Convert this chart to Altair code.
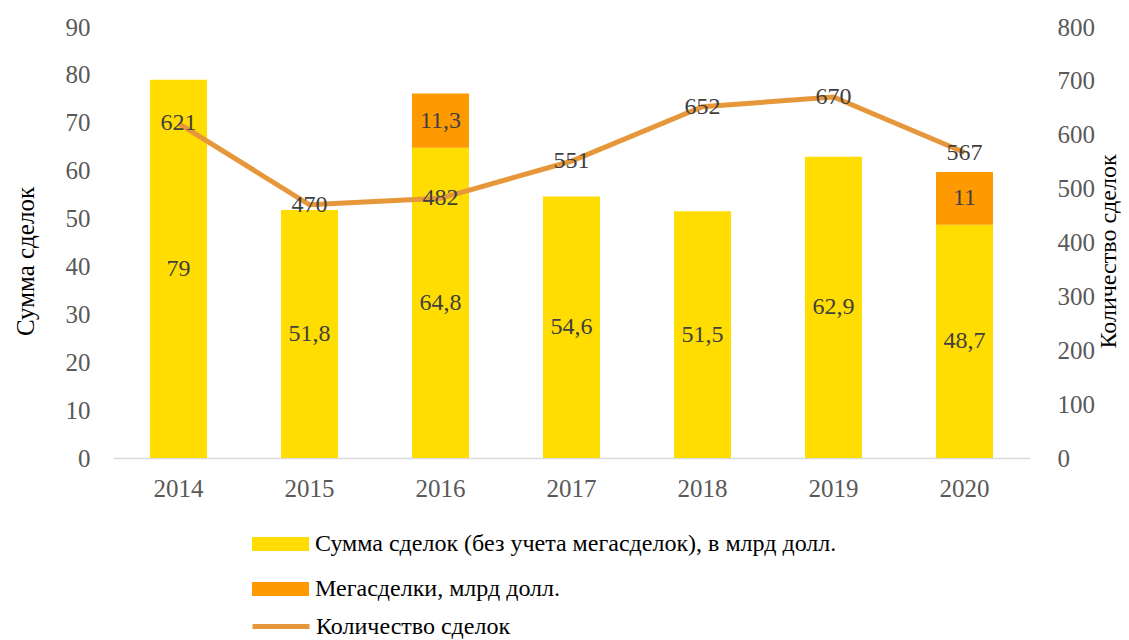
import altair as alt
import pandas as pd

years = ["2014", "2015", "2016", "2017", "2018", "2019", "2020"]
base_sum = [79, 51.8, 64.8, 54.6, 51.5, 62.9, 48.7]
mega_sum = [0, 0, 11.3, 0, 0, 0, 11]
deal_count = [621, 470, 482, 551, 652, 670, 567]

S_BASE = "Сумма сделок (без учета мегасделок), в млрд долл."
S_MEGA = "Мегасделки, млрд долл."
S_COUNT = "Количество сделок"

FONT = "Liberation Serif"
YELLOW = "#FFDD00"
ORANGE = "#FF9900"
LINE = "#E6973A"


def fmt(v):
    s = ("%g" % v)
    return s.replace(".", ",")


rows = []
for i, y in enumerate(years):
    rows.append({"year": y, "series": S_BASE, "value": base_sum[i], "ord": 0,
                 "mid": base_sum[i] / 2, "label": fmt(base_sum[i])})
    if mega_sum[i] > 0:
        rows.append({"year": y, "series": S_MEGA, "value": mega_sum[i], "ord": 1,
                     "mid": base_sum[i] + mega_sum[i] / 2, "label": fmt(mega_sum[i])})
bars_df = pd.DataFrame(rows)

line_df = pd.DataFrame({"year": years, "count": deal_count, "name": S_COUNT,
                        "label": [str(c) for c in deal_count]})

x_enc = alt.X("year:N", sort=years, title=None,
              axis=alt.Axis(labelAngle=0, labelFont=FONT, labelFontSize=25,
                            labelColor="#595959", labelPadding=18, ticks=False,
                            domainColor="#D9D9D9", domainWidth=1.3, grid=False))

left_axis = alt.Axis(values=list(range(0, 91, 10)), title="Сумма сделок",
                     labelFont=FONT, labelFontSize=25, labelColor="#595959",
                     labelPadding=23, ticks=False, domain=False, grid=False,
                     titleFont=FONT, titleFontSize=25, titleFontWeight="normal",
                     titleColor="#000000", titleAngle=270, titleX=-88, titleY=234,
                     titleAlign="center", titleBaseline="middle")

right_axis = alt.Axis(orient="right", values=list(range(0, 801, 100)),
                      title=S_COUNT, labelFont=FONT, labelFontSize=25,
                      labelColor="#595959", labelPadding=27, ticks=False,
                      domain=False, grid=False, titleFont=FONT, titleFontSize=24,
                      titleFontWeight="normal", titleColor="#000000",
                      titleAngle=270, titleX=78, titleY=224,
                      titleAlign="center", titleBaseline="middle")

bars = alt.Chart(bars_df).mark_bar(size=57).encode(
    x=x_enc,
    y=alt.Y("value:Q", stack="zero", scale=alt.Scale(domain=[0, 90]), axis=left_axis),
    fill=alt.Fill("series:N",
                  scale=alt.Scale(domain=[S_BASE, S_MEGA], range=[YELLOW, ORANGE]),
                  legend=alt.Legend(title=None, orient="none", legendX=137, legendY=505,
                                    direction="vertical",
                                    symbolType="M-1,-0.7 L4.7,-0.7 L4.7,0.7 L-1,0.7 Z",
                                    symbolSize=400, symbolStrokeWidth=0,
                                    labelFont=FONT, labelFontSize=24, labelColor="#000000",
                                    labelOffset=41, rowPadding=21, padding=0,
                                    labelLimit=1000)),
    order=alt.Order("ord:Q"),
)

bar_labels = alt.Chart(bars_df).mark_text(
    font=FONT, fontSize=24, color="#404040", baseline="middle", align="center"
).encode(
    x=alt.X("year:N", sort=years),
    y=alt.Y("mid:Q", scale=alt.Scale(domain=[0, 90]), axis=left_axis),
    text="label:N",
)

line = alt.Chart(line_df).mark_line(strokeWidth=5).encode(
    x=alt.X("year:N", sort=years),
    y=alt.Y("count:Q", scale=alt.Scale(domain=[0, 800]), axis=right_axis),
    stroke=alt.Stroke("name:N", scale=alt.Scale(domain=[S_COUNT], range=[LINE]),
                      legend=alt.Legend(title=None, orient="none", legendX=137,
                                        legendY=587,
                                        symbolType="M-1,0 L4.7,0",
                                        symbolSize=400, symbolStrokeWidth=5,
                                        labelFont=FONT, labelFontSize=24,
                                        labelColor="#000000", labelOffset=41,
                                        padding=0, labelLimit=1000)),
)

line_labels = alt.Chart(line_df).mark_text(
    font=FONT, fontSize=24, color="#404040", baseline="middle", align="center"
).encode(
    x=alt.X("year:N", sort=years),
    y=alt.Y("count:Q", scale=alt.Scale(domain=[0, 800]), axis=right_axis),
    text="label:N",
)

left = alt.layer(bars, bar_labels)
right = alt.layer(line, line_labels)

chart = alt.layer(left, right).resolve_scale(y="independent").properties(
    width=917, height=431,
    autosize=alt.AutoSizeParams(type="none"),
    padding={"left": 105, "top": 19, "right": 91, "bottom": 182},
).configure_view(stroke=None)

chart.save("out.html", embed_options={"renderer": "svg", "actions": False})
